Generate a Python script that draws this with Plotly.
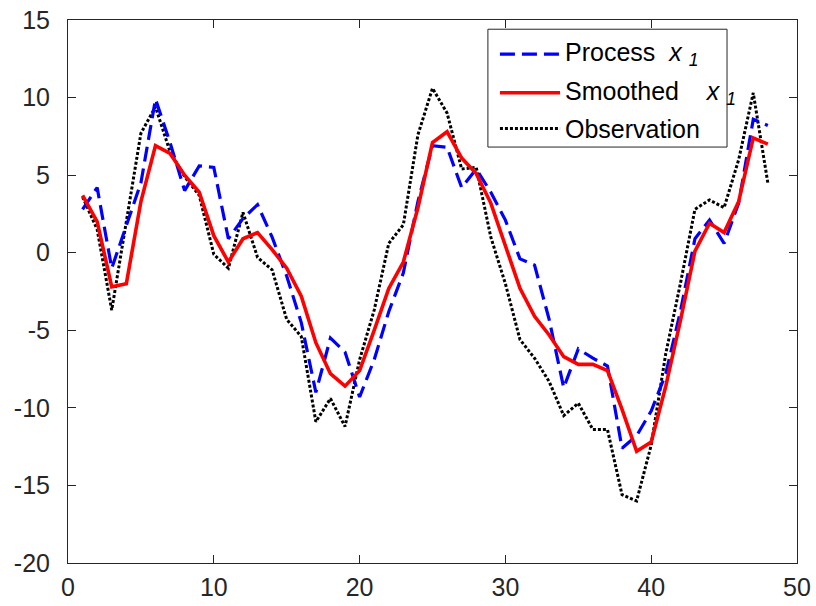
import plotly.graph_objects as go

# ---- data ----
t = list(range(1, 49))

process_x1 = [2.8, 4.2, -1.0, 1.8, 4.5, 9.9, 7.1, 4.0, 5.6, 5.5,
              0.9, 2.2, 3.1, 1.0, -1.5, -4.5, -9.0, -5.5, -6.4, -9.3,
              -6.9, -3.8, -1.3, 3.3, 6.9, 6.8, 4.2, 5.4, 3.9, 2.1,
              -0.4, -0.8, -4.3, -8.7, -6.2, -6.8, -7.3, -12.6, -11.8, -10.2,
              -7.8, -3.8, 0.9, 2.1, 0.6, 3.2, 8.6, 8.2]

smoothed_x1 = [3.7, 2.0, -2.2, -2.0, 3.3, 6.9, 6.4, 5.0, 3.9, 1.1,
               -0.6, 0.9, 1.3, 0.2, -1.0, -2.8, -5.8, -7.8, -8.6, -7.6,
               -5.0, -2.3, -0.6, 2.9, 7.1, 7.8, 6.1, 5.1, 3.2, 0.5,
               -2.3, -4.1, -5.3, -6.7, -7.2, -7.2, -7.6, -10.1, -12.8, -12.2,
               -8.6, -4.4, 0.1, 1.9, 1.3, 3.3, 7.4, 7.0]

observation = [3.6, 1.5, -3.7, 1.9, 7.7, 9.4, 6.5, 4.9, 3.7, -0.1,
               -1.0, 2.6, -0.3, -1.1, -4.3, -5.4, -10.9, -9.4, -11.2, -6.9,
               -3.7, 0.6, 1.8, 7.6, 10.6, 9.0, 5.4, 5.5, 1.0, -2.0,
               -5.6, -6.8, -8.3, -10.5, -9.7, -11.4, -11.4, -15.6, -16.0, -12.4,
               -6.5, -2.0, 2.8, 3.4, 2.9, 6.0, 10.3, 4.5]

x_ticks = [0, 10, 20, 30, 40, 50]
y_ticks = [-20, -15, -10, -5, 0, 5, 10, 15]

names = ["Process\u00a0\u00a0<i>x</i>\u00a0<sub><i>1</i></sub>",
         "Smoothed\u00a0\u00a0\u00a0\u00a0<i>x</i>\u00a0<sub><i>1</i></sub>",
         "Observation"]

# ---- styles ----
colors = ["#0000FF", "#FF0000", "#000000"]
dashes = ["15px,7px", "solid", "3px,2px"]
widths = [3.2, 3.6, 3]
series = [process_x1, smoothed_x1, observation]

FONT = "Liberation Sans, Arial, Helvetica, sans-serif"
AX = "#262626"

fig = go.Figure()
# draw order: observation, process, smoothed on top
for i in [2, 0, 1]:
    fig.add_trace(go.Scatter(x=t, y=series[i], mode="lines",
                             line=dict(color=colors[i], width=widths[i], dash=dashes[i]),
                             showlegend=False, hoverinfo="skip"))

fig.update_layout(
    width=816, height=606,
    margin=dict(l=68, r=19, t=20, b=43, autoexpand=False),
    paper_bgcolor="white", plot_bgcolor="white",
    font=dict(family=FONT, size=25, color=AX),
    showlegend=False,
)
fig.update_xaxes(range=[0, 50], tickvals=x_ticks, ticktext=[str(v) for v in x_ticks],
                 showgrid=False, zeroline=False, showline=True, linecolor=AX, linewidth=1,
                 mirror="ticks", ticks="inside", ticklen=8, tickcolor=AX, tickwidth=1,
                 ticklabelstandoff=2, automargin=False)
fig.update_yaxes(range=[-20, 15], tickvals=y_ticks, ticktext=[str(v) for v in y_ticks],
                 showgrid=False, zeroline=False, showline=True, linecolor=AX, linewidth=1,
                 mirror="ticks", ticks="inside", ticklen=8, tickcolor=AX, tickwidth=1,
                 ticklabelstandoff=12, automargin=False)

# ---- legend (drawn manually to match the long line samples) ----
L_left, L_top, L_right, L_bottom = 0.576, 0.983, 0.904, 0.766
fig.add_shape(type="rect", xref="paper", yref="paper",
              x0=L_left, x1=L_right, y0=L_bottom, y1=L_top,
              line=dict(color=AX, width=1), fillcolor="white", layer="above")
row_y = [0.937, 0.866, 0.800]
for i in range(3):
    fig.add_shape(type="line", xref="paper", yref="paper",
                  x0=L_left + 0.0165, x1=L_left + 0.099, y0=row_y[i], y1=row_y[i],
                  line=dict(color=colors[i], width=widths[i], dash=dashes[i]), layer="above")
    fig.add_annotation(xref="paper", yref="paper", x=L_left + 0.103, y=row_y[i],
                       xanchor="left", yanchor="middle", showarrow=False,
                       text=names[i], font=dict(family=FONT, size=25, color="#000000"))

fig.write_html("out.html", config={"displayModeBar": False},
               post_script="document.body.style.margin='0';document.body.style.overflow='hidden';")
